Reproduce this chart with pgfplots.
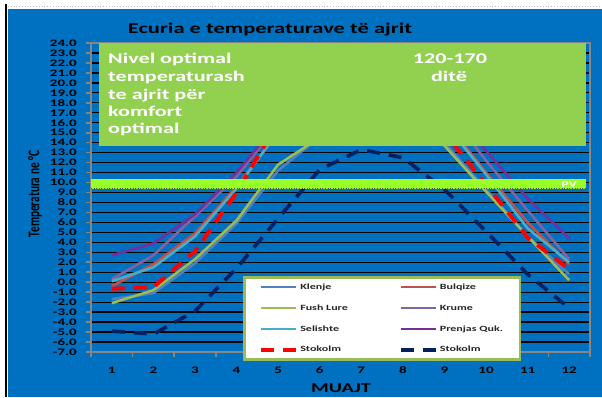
\documentclass[border=0pt]{standalone}
\usepackage{pgfplots}
\pgfplotsset{compat=1.18}
\usepackage{fontspec}
\newfontfamily\wf{Carlito}[FakeStretch=1.5]
\newfontfamily\nf{Carlito}
\definecolor{bgblue}{RGB}{0,112,192}
\definecolor{boxgreen}{RGB}{146,208,80}
\definecolor{pvgreen}{RGB}{153,255,40}
\definecolor{lgborder}{RGB}{155,187,89}
\definecolor{axisgray}{RGB}{134,134,134}
\definecolor{cKlenje}{RGB}{79,129,189}
\definecolor{cBulqize}{RGB}{192,80,77}
\definecolor{cFush}{RGB}{155,187,89}
\definecolor{cKrume}{RGB}{128,100,162}
\definecolor{cSelishte}{RGB}{75,172,198}
\definecolor{cPrenjas}{RGB}{112,48,160}
\definecolor{cNavy}{RGB}{0,32,96}
\begin{document}
\begin{tikzpicture}[x=1pt,y=1pt]
\useasboundingbox (0,0) rectangle (602,397);
\fill[white] (0,0) rectangle (602,397);
\fill[bgblue] (8,0) rectangle (602,388);
\draw[black,line width=1.2pt] (6,0) -- (6,393);
\draw[gray!50,dotted,line width=0.8pt] (8,390.5) -- (602,390.5);
\begin{axis}[
  at={(91pt,45pt)}, anchor=south west,
  scale only axis, width=499pt, height=309pt,
  xmin=0.5, xmax=12.5, ymin=-7, ymax=24,
  axis line style={axisgray, line width=1.6pt},
  xtick={0.5,1.5,2.5,3.5,4.5,5.5,6.5,7.5,8.5,9.5,10.5,11.5,12.5},
  x tick label as interval,
  xticklabels={1,2,3,4,5,6,7,8,9,10,11,12},
  ytick={-7,-6,...,24},
  yticklabel={\pgfmathprintnumber[fixed,fixed zerofill,precision=1]{\tick}},
  /pgf/number format/assume math mode=true,
  xtick pos=bottom, ytick pos=left,
  tick align=outside, major tick length=5pt,
  major tick style={axisgray, line width=1.6pt},
  ymajorgrids, major grid style={black, line width=1.3pt},
  ticklabel style={font=\wf\bfseries\fontsize{10}{12}\selectfont, text=black},
  yticklabel style={xshift=-5.7pt},
  xticklabel style={yshift=-6pt},
  legend columns=2,
  legend image code/.code={\draw[#1, line cap=butt] (0pt,0pt) -- (35pt,0pt);},
  legend style={at={(0.3046,0.246)}, anchor=north west,
    draw=lgborder, line width=2.6pt, fill=white,
    inner xsep=15pt, inner ysep=4pt,
    font=\wf\bfseries\fontsize{8}{10}\selectfont, text=black!85,
    row sep=9.4pt,
    cells={anchor=west, inner xsep=2pt, inner ysep=0pt, text height=6pt, text depth=1.5pt}},
  every axis plot/.append style={line join=round},
]
\addplot[cKlenje, line width=2.6pt] coordinates {(1,-1.7) (2,-1.1) (3,1.9) (4,5.9) (5,11.2) (6,14.6) (7,16.8) (8,16.5) (9,14.0) (10,9.3) (11,4.6) (12,0.8)};
\addlegendentry{\makebox[97pt][l]{Klenje}}
\addplot[cBulqize, line width=2.6pt] coordinates {(1,-0.4) (2,1.8) (3,4.9) (4,9.6) (5,15.0) (6,18.6) (7,20.6) (8,20.3) (9,16.3) (10,11.0) (11,6.0) (12,1.8)};
\addlegendentry{Bulqize}
\addplot[cFush, line width=2.6pt] coordinates {(1,-2.1) (2,-0.8) (3,2.3) (4,6.2) (5,11.8) (6,14.5) (7,16.6) (8,16.3) (9,13.7) (10,9.1) (11,4.6) (12,0.2)};
\addlegendentry{\makebox[97pt][l]{Fush Lure}}
\addplot[cKrume, line width=2.6pt] coordinates {(1,0.3) (2,2.7) (3,6.6) (4,10.6) (5,15.8) (6,19.2) (7,21.2) (8,20.9) (9,17.6) (10,12.2) (11,7.2) (12,2.3)};
\addlegendentry{Krume}
\addplot[cSelishte, line width=2.6pt] coordinates {(1,0.1) (2,1.5) (3,4.6) (4,9.4) (5,15.1) (6,18.5) (7,20.5) (8,20.2) (9,16.0) (10,10.8) (11,5.4) (12,2.0)};
\addlegendentry{\makebox[97pt][l]{Selishte}}
\addplot[cPrenjas, line width=2.6pt] coordinates {(1,2.7) (2,3.9) (3,6.8) (4,11.0) (5,16.0) (6,19.6) (7,21.6) (8,21.3) (9,18.0) (10,13.2) (11,8.4) (12,4.4)};
\addlegendentry{Prenjas Quk.}
\addplot[red, line width=4pt, dash pattern=on 13pt off 9pt] coordinates {(1,-0.65) (2,-0.5) (3,3.1) (4,9.0) (5,16.0) (6,18.2) (7,20.2) (8,19.8) (9,15.0) (10,9.8) (11,4.5) (12,1.3)};
\addlegendentry{\makebox[97pt][l]{Stokolm}}
\addplot[cNavy, line width=3.6pt, dash pattern=on 13pt off 9pt] coordinates {(1,-4.9) (2,-5.2) (3,-2.9) (4,1.4) (5,6.4) (6,11.3) (7,13.3) (8,12.5) (9,9.3) (10,5.1) (11,0.8) (12,-2.6)};
\addlegendentry{Stokolm}
\fill[pvgreen] (axis cs:0.5,9.4) rectangle (axis cs:12.4,10.36);
\draw[black!70, dotted, line width=0.6pt] (axis cs:0.5,9.4) -- (axis cs:12.4,9.4);
\fill[boxgreen] (axis cs:0.69,13.7) rectangle (axis cs:12.4,24);
\end{axis}
% titles and labels
\node[anchor=base, font=\wf\bfseries\fontsize{15}{18}\selectfont] at (270,363.7) {Ecuria e temperaturave të ajrit};
\node[rotate=90] at (35,203) {\scalebox{1}[1.45]{\nf\bfseries\fontsize{11.3}{13}\selectfont Temperatura ne °C}};
\node[anchor=base, font=\wf\bfseries\fontsize{13.5}{16}\selectfont] at (341,4.3) {MUAJT};
% box text
\begin{scope}[every node/.style={anchor=base west, inner sep=0pt, text=white, font=\wf\bfseries\fontsize{14.8}{17}\selectfont}]
\node at (108,333) {Nivel optimal};
\node at (108,315.3) {temperaturash};
\node at (108,298) {te ajrit për};
\node at (108,280.3) {komfort};
\node at (108,263.7) {optimal};
\end{scope}
\node[anchor=base, inner sep=0pt, text=white, font=\wf\bfseries\fontsize{14.8}{17}\selectfont] at (450,333) {120-170};
\node[anchor=base, inner sep=0pt, text=white, font=\wf\bfseries\fontsize{14.8}{17}\selectfont] at (449,315.3) {ditë};
\node[anchor=base east, inner sep=0pt, text=white, font=\wf\bfseries\fontsize{9}{11}\selectfont] at (577,209.7) {PV};
\end{tikzpicture}
\end{document}
